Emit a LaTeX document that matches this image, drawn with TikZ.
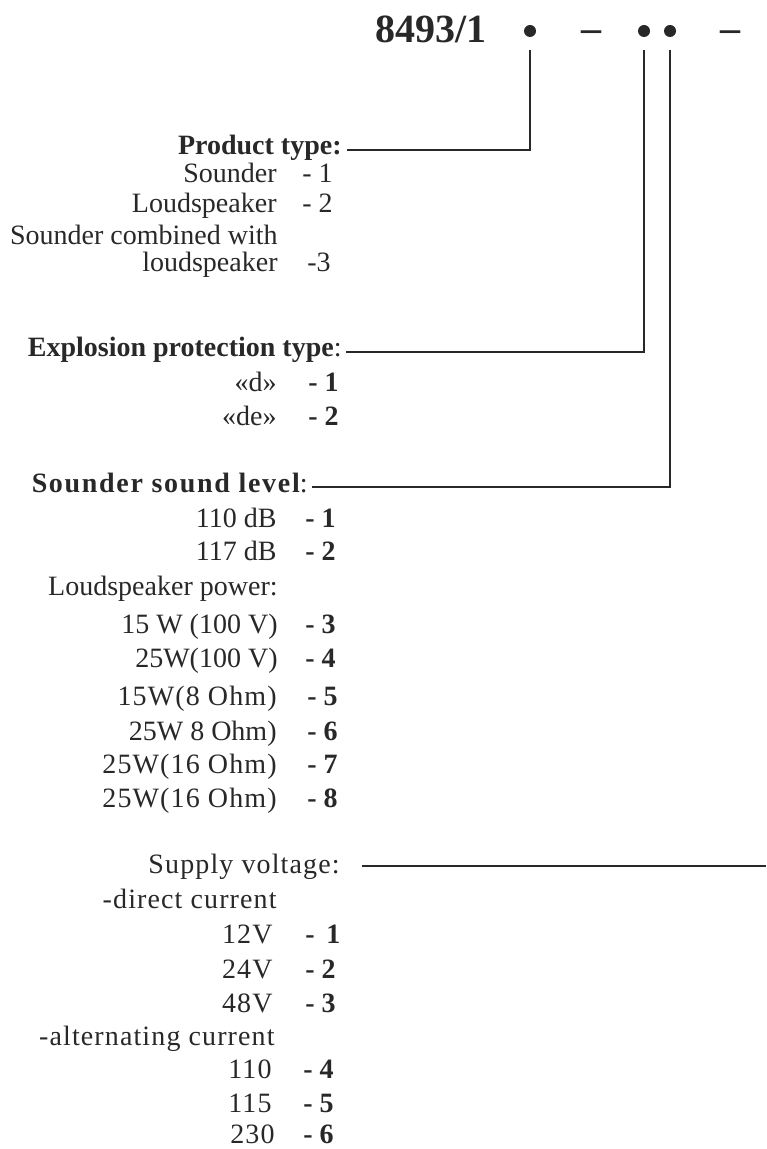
\documentclass[tikz,border=0pt]{standalone}
\usepackage{fontspec}
\setmainfont{Liberation Serif}
\usetikzlibrary{calc}
\definecolor{ink}{RGB}{40,40,40}
\newcommand\lspc{\addfontfeature{LetterSpace=4}}
\newcommand\lspcw{\addfontfeature{LetterSpace=6}}
\begin{document}
\begin{tikzpicture}[x=0.5pt,y=-0.5pt,
  every node/.style={text=ink, inner sep=0pt, font=\fontsize{14}{16}\selectfont},
  lab/.style={anchor=base east},
  code/.style={anchor=base west},
  bcode/.style={anchor=base west, font=\fontsize{14}{16}\selectfont\bfseries},
  hdr/.style={anchor=base east, font=\fontsize{14}{16}\selectfont\bfseries},
  ttl/.style={font=\fontsize{20}{22}\selectfont\bfseries},
  dot/.style={circle, fill=ink, minimum size=6pt},
  conn/.style={draw=ink, line width=0.7pt}]
\useasboundingbox (0,0) rectangle (766,1149);
% title
\node[ttl, anchor=base west] (title) at (375,43) {8493/1};
\node[dot] (d1) at (530,31) {};
\node[ttl] (m1) at (591,36) {–};
\node[dot] (d2) at (644,31) {};
\node[dot] (d3) at (670,31) {};
\node[ttl] (m2) at (730,36) {–};
% product type
\node[hdr] (h1) at (342,155) {Product type:};
\node[lab] (p1) at (277,183) {Sounder};
\node[code] (p1c) at (302,183) {- 1};
\node[lab] (p2) at (277,213) {Loudspeaker};
\node[code] (p2c) at (302,213) {- 2};
\node[lab] (p3) at (278,245) {Sounder combined with};
\node[lab] (p4) at (278,272) {loudspeaker};
\node[code] (p4c) at (307,272) {-3};
% explosion protection
\node[hdr] (h2) at (342,357) {Explosion protection type\mdseries:};
\node[lab] (e1) at (277,392) {«d»};
\node[bcode] (e1c) at (308,392) {- 1};
\node[lab] (e2) at (277,425) {«de»};
\node[bcode] (e2c) at (308,425) {- 2};
% sound level
\node[hdr] (h3) at (308,492) {\lspcw Sounder sound level\mdseries:};
\node[lab] (s1) at (277,527) {110 dB};
\node[bcode] (s1c) at (305,527) {- 1};
\node[lab] (s2) at (277,560) {117 dB};
\node[bcode] (s2c) at (305,560) {- 2};
\node[lab] (s3) at (278,595) {Loudspeaker power:};
\node[lab] (s4) at (278,633) {15 W (100 V)};
\node[bcode] (s4c) at (305,633) {- 3};
\node[lab] (s5) at (278,667) {25W(100 V)};
\node[bcode] (s5c) at (305,667) {- 4};
\node[lab] (s6) at (277,705) {\lspc 15W(8 Ohm)};
\node[bcode] (s6c) at (307,705) {- 5};
\node[lab] (s7) at (277,740) {25W 8 Ohm)};
\node[bcode] (s7c) at (307,740) {- 6};
\node[lab] (s8) at (277,773) {\lspc 25W(16 Ohm)};
\node[bcode] (s8c) at (307,773) {- 7};
\node[lab] (s9) at (277,807) {\lspc 25W(16 Ohm)};
\node[bcode] (s9c) at (307,807) {- 8};
% supply voltage
\node[lab] (h4) at (340,873) {\lspc Supply voltage:};
\node[lab] (v0) at (277,908) {\lspc -direct current};
\node[lab] (v1) at (273,943) {\lspc 12V};
\node[bcode] (v1c) at (305,943) {- \,1};
\node[lab] (v2) at (273,978) {\lspc 24V};
\node[bcode] (v2c) at (305,978) {- 2};
\node[lab] (v3) at (273,1012) {\lspc 48V};
\node[bcode] (v3c) at (305,1012) {- 3};
\node[lab] (va) at (275,1045) {\lspc -alternating current};
\node[lab] (v4) at (272,1078) {\lspc 110};
\node[bcode] (v4c) at (303,1078) {- 4};
\node[lab] (v5) at (272,1112) {\lspc 115};
\node[bcode] (v5c) at (303,1112) {- 5};
\node[lab] (v6) at (275,1143) {\lspc 230};
\node[bcode] (v6c) at (303,1143) {- 6};
% connectors
\coordinate (a1) at ($(h1.base east)+(5,-5)$);
\coordinate (a2) at ($(h2.base east)+(4,-5)$);
\coordinate (a3) at ($(h3.base east)+(4,-5)$);
\coordinate (a4) at ($(h4.base east)+(22,-7)$);
\coordinate (b4) at (766,866);
\draw[conn] (d1.center) ++(0,19) |- (a1);
\draw[conn] (d2.center) ++(0,19) |- (a2);
\draw[conn] (d3.center) ++(0,19) |- (a3);
\draw[conn] (a4) -- (b4);
\end{tikzpicture}
\end{document}
